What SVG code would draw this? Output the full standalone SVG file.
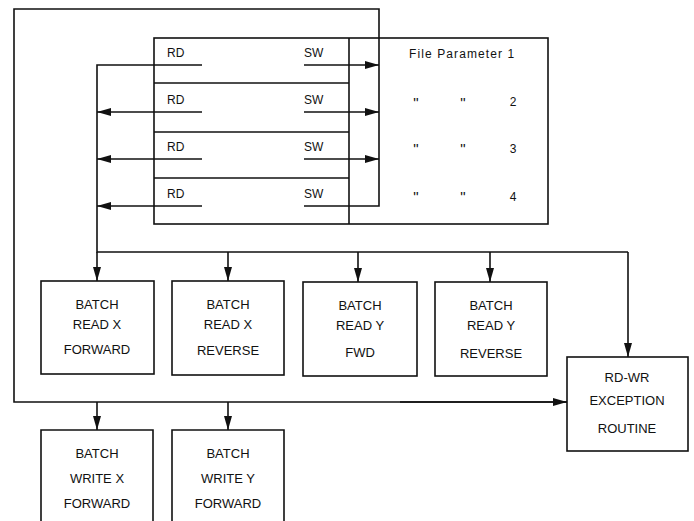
<svg xmlns="http://www.w3.org/2000/svg" width="694" height="521" viewBox="0 0 694 521">
<style>
.b{fill:#fff;stroke:#111;stroke-width:1.6}
.c{fill:none;stroke:#111;stroke-width:1.6}
.a{fill:none;stroke:#111;stroke-width:1.6;marker-end:url(#arr)}
.t{font-family:"Liberation Sans",Arial,sans-serif;font-size:13px;fill:#111;text-anchor:middle}
.s{font-family:"Liberation Sans",Arial,sans-serif;font-size:12px;fill:#111}
.d{font-family:"Liberation Sans",Arial,sans-serif;font-size:15px;fill:#111;text-anchor:middle}
</style>
<defs>
<marker id="arr" viewBox="0 0 14 8" refX="14" refY="4" markerWidth="14" markerHeight="8" orient="auto" markerUnits="userSpaceOnUse">
<path d="M0,0 L14,4 L0,8 Z" fill="#111"/>
</marker>
</defs>
<rect width="694" height="521" fill="#fff"/>

<g id="file-table">
<rect class="b" x="154" y="38" width="394" height="186"/>
<line class="c" x1="349" y1="38" x2="349" y2="224"/>
<line class="c" x1="154" y1="83" x2="349" y2="83"/>
<line class="c" x1="154" y1="132" x2="349" y2="132"/>
<line class="c" x1="154" y1="178" x2="349" y2="178"/>
<text class="s" x="167" y="57">RD</text>
<text class="s" x="304" y="57">SW</text>
<text class="s" x="167" y="104">RD</text>
<text class="s" x="304" y="104">SW</text>
<text class="s" x="167" y="151">RD</text>
<text class="s" x="304" y="151">SW</text>
<text class="s" x="167" y="198">RD</text>
<text class="s" x="304" y="198">SW</text>
<text class="s" x="409" y="58" letter-spacing="1.1">File Parameter 1</text>
<text class="d" x="416" y="108">"</text>
<text class="d" x="463" y="108">"</text>
<text class="s" x="513" y="106" text-anchor="middle">2</text>
<text class="d" x="416" y="154">"</text>
<text class="d" x="463" y="154">"</text>
<text class="s" x="513" y="153" text-anchor="middle">3</text>
<text class="d" x="416" y="202">"</text>
<text class="d" x="463" y="202">"</text>
<text class="s" x="513" y="201" text-anchor="middle">4</text>
</g>

<g id="connectors">
<path class="c" d="M202,65 L97,65 L97,252 L628,252"/>
<line class="a" x1="97" y1="252" x2="97" y2="281"/>
<line class="a" x1="202" y1="112" x2="97" y2="112"/>
<line class="a" x1="202" y1="159" x2="97" y2="159"/>
<line class="a" x1="202" y1="206" x2="97" y2="206"/>
<line class="a" x1="304" y1="65" x2="379" y2="65"/>
<line class="a" x1="304" y1="112" x2="379" y2="112"/>
<line class="a" x1="304" y1="159" x2="379" y2="159"/>
<path class="c" d="M304,206 L379,206 L379,9 L14,9 L14,402 L567,402"/>
<line class="a" x1="400" y1="402" x2="567" y2="402"/>
<line class="a" x1="228" y1="252" x2="228" y2="281"/>
<line class="a" x1="358" y1="252" x2="358" y2="282"/>
<line class="a" x1="490" y1="252" x2="490" y2="282"/>
<path class="a" d="M628,252 L628,357"/>
<line class="a" x1="97" y1="402" x2="97" y2="430"/>
<line class="a" x1="228" y1="402" x2="228" y2="430"/>
</g>

<g id="read-x-forward">
<rect class="b" x="41" y="281" width="113" height="93"/>
<text class="t" x="97" y="309">BATCH</text>
<text class="t" x="97" y="329">READ X</text>
<text class="t" x="97" y="354">FORWARD</text>
</g>
<g id="read-x-reverse">
<rect class="b" x="172" y="281" width="112" height="94"/>
<text class="t" x="228" y="309">BATCH</text>
<text class="t" x="228" y="329">READ X</text>
<text class="t" x="228" y="355">REVERSE</text>
</g>
<g id="read-y-fwd">
<rect class="b" x="303" y="282" width="114" height="94"/>
<text class="t" x="360" y="310">BATCH</text>
<text class="t" x="360" y="330">READ Y</text>
<text class="t" x="360" y="357">FWD</text>
</g>
<g id="read-y-reverse">
<rect class="b" x="435" y="282" width="112" height="94"/>
<text class="t" x="491" y="310">BATCH</text>
<text class="t" x="491" y="330">READ Y</text>
<text class="t" x="491" y="358">REVERSE</text>
</g>
<g id="rd-wr-exception">
<rect class="b" x="567" y="357" width="121" height="94"/>
<text class="t" x="627" y="382">RD-WR</text>
<text class="t" x="627" y="405">EXCEPTION</text>
<text class="t" x="627" y="433">ROUTINE</text>
</g>
<g id="write-x-forward">
<path class="b" d="M41,525 L41,430 L153,430 L153,525"/>
<text class="t" x="97" y="458">BATCH</text>
<text class="t" x="97" y="483">WRITE X</text>
<text class="t" x="97" y="508">FORWARD</text>
</g>
<g id="write-y-forward">
<path class="b" d="M172,525 L172,430 L284,430 L284,525"/>
<text class="t" x="228" y="458">BATCH</text>
<text class="t" x="228" y="483">WRITE Y</text>
<text class="t" x="228" y="508">FORWARD</text>
</g>
</svg>
